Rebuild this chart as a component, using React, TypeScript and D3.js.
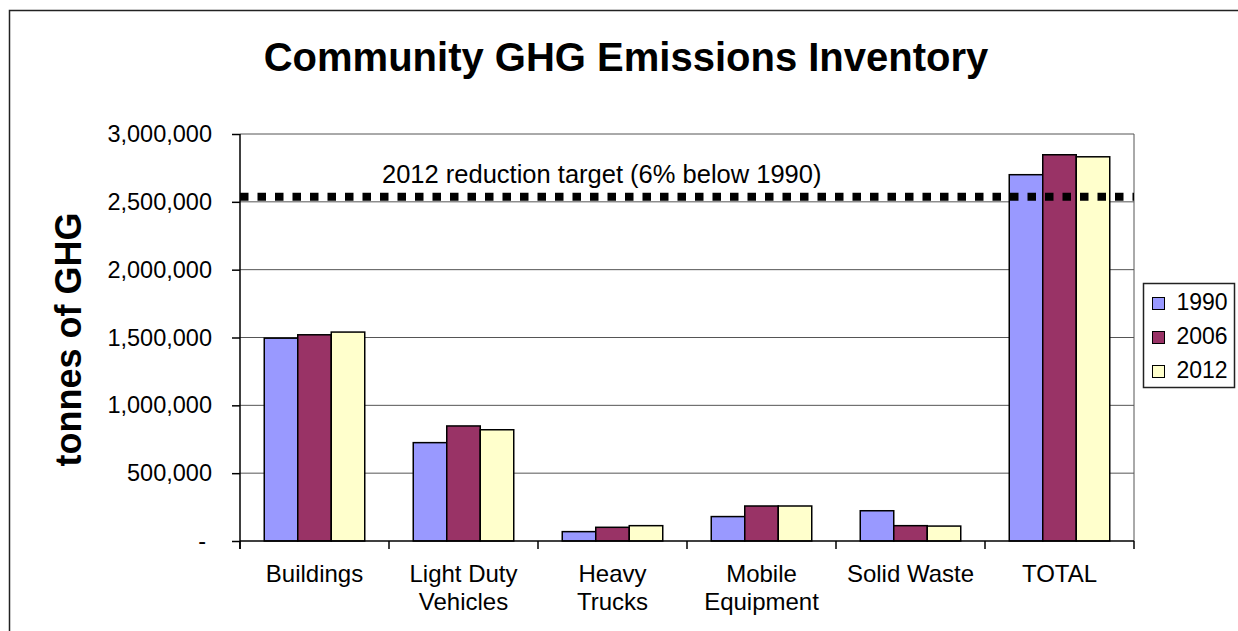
import * as d3 from 'd3'
import { useRef, useEffect } from 'react'

// chart data
const categories = ['Buildings', 'Light Duty Vehicles', 'Heavy Trucks', 'Mobile Equipment', 'Solid Waste', 'TOTAL']
const categoryLines = [['Buildings'], ['Light Duty', 'Vehicles'], ['Heavy', 'Trucks'], ['Mobile', 'Equipment'], ['Solid Waste'], ['TOTAL']]
const years = ['1990', '2006', '2012']
const values1990 = [1495000, 725000, 69000, 180000, 223000, 2700000]
const values2006 = [1520000, 848000, 101000, 258000, 113000, 2847000]
const values2012 = [1540000, 820000, 113000, 258000, 110000, 2832000]
const yTicks = [0, 500000, 1000000, 1500000, 2000000, 2500000, 3000000]
const targetValue = 2538000
const targetLabel = '2012 reduction target (6% below 1990)'

const colors = ['#9999ff', '#993366', '#ffffcc']
const font = '"Liberation Sans", Arial, sans-serif'

const W = 1238
const H = 631
const plot = { left: 240, right: 1134, top: 134, bottom: 541 }

const App = () => {
  const series = [values1990, values2006, values2012]

  const x0 = d3.scaleBand()
    .domain(categories)
    .range([plot.left, plot.right])
  const x1 = d3.scaleBand()
    .domain(years)
    .range([0, x0.bandwidth()])
    .paddingOuter(0.724)
  const y = d3.scaleLinear()
    .domain([0, 3000000])
    .range([plot.bottom, plot.top])

  const yAxis = useRef()

  useEffect(() => {
    const fmt = d3.format(',')
    const ya = d3.axisLeft(y).tickValues(yTicks).tickSize(8).tickPadding(20)
      .tickFormat(d => (d === 0 ? '-' : fmt(d)))
    const g = d3.select(yAxis.current).call(ya)
    g.select('.domain').remove()
    g.selectAll('line').attr('stroke', '#000').attr('stroke-width', 1.5)
    g.selectAll('text')
      .attr('font-family', font).attr('font-size', 23.5).attr('fill', '#000')
      .attr('dx', d => (d === 0 ? -6 : 0))
  })

  const boundaries = [...categories.map(c => x0(c)), plot.right]

  return (
    <svg width={W} height={H} style={{ position: 'absolute', left: 0, top: 0, background: '#fff' }}>
      <rect x={9.5} y={10.5} width={W + 20} height={H + 20} fill="#fff" stroke="#222" strokeWidth={1.5} />

      <text x={626} y={71} textAnchor="middle" fontFamily={font} fontWeight="bold" fontSize={40}>
        Community GHG Emissions Inventory
      </text>

      <text transform={`translate(81, ${(plot.top + plot.bottom) / 2 + 2}) rotate(-90)`} textAnchor="middle"
        fontFamily={font} fontWeight="bold" fontSize={36}>
        tonnes of GHG
      </text>

      {/* gridlines */}
      {yTicks.filter(t => t > 0).map(t => (
        <line key={t} x1={plot.left} x2={plot.right} y1={y(t)} y2={y(t)} stroke="#555" strokeWidth={1} />
      ))}
      <line x1={plot.right} x2={plot.right} y1={plot.top} y2={plot.bottom} stroke="#555" strokeWidth={1} />

      {/* bars */}
      {series.map((vals, si) => (
        <g key={years[si]}>
          {vals.map((v, ci) => (
            <rect key={ci}
              x={x0(categories[ci]) + x1(years[si])}
              y={y(v)}
              width={x1.bandwidth()}
              height={y(0) - y(v)}
              fill={colors[si]}
              stroke="#000"
              strokeWidth={1.5}
            />
          ))}
        </g>
      ))}

      {/* target line */}
      <line x1={plot.left} x2={plot.right} y1={y(targetValue)} y2={y(targetValue)}
        stroke="#000" strokeWidth={8} strokeDasharray="8.5 9" />
      <text x={382} y={183} fontFamily={font} fontSize={25.5}>{targetLabel}</text>

      {/* axes */}
      <g ref={yAxis} transform={`translate(${plot.left},0)`} />
      <line x1={plot.left} x2={plot.left} y1={plot.top} y2={plot.bottom + 8} stroke="#000" strokeWidth={1.5} />
      <line x1={plot.left} x2={plot.right} y1={plot.bottom} y2={plot.bottom} stroke="#000" strokeWidth={1.5} />
      {boundaries.map((bx, i) => (
        <line key={i} x1={bx} x2={bx} y1={plot.bottom} y2={plot.bottom + 8} stroke="#000" strokeWidth={1.5} />
      ))}
      {categoryLines.map((lines, ci) => (
        <text key={ci} x={x0(categories[ci]) + x0.bandwidth() / 2} y={582} textAnchor="middle"
          fontFamily={font} fontSize={24}>
          {lines.map((l, li) => (
            <tspan key={li} x={x0(categories[ci]) + x0.bandwidth() / 2} dy={li === 0 ? 0 : 28}>{l}</tspan>
          ))}
        </text>
      ))}

      {/* legend */}
      <g transform="translate(1143.5,283.5)">
        <rect width={91} height={104} fill="#fff" stroke="#222" strokeWidth={1.5} />
        {years.map((yr, i) => (
          <g key={yr} transform={`translate(0,${i * 34})`}>
            <rect x={9} y={14} width={12} height={12} fill={colors[i]} stroke="#000" strokeWidth={1} />
            <text x={33} y={26} fontFamily={font} fontSize={23}>{yr}</text>
          </g>
        ))}
      </g>
    </svg>
  )
}

export default App
